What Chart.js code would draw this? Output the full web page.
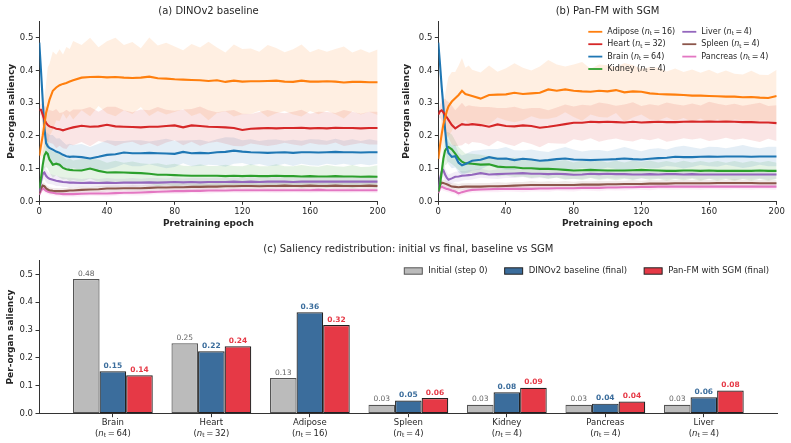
<!DOCTYPE html>
<html>
<head>
<meta charset="utf-8">
<script src="https://cdn.jsdelivr.net/npm/chart.js@4.4.1/dist/chart.umd.min.js"></script>
<style>
  body { margin: 0; background: #fff; overflow: hidden; }
  #wrap { position: relative; width: 791px; height: 443px; }
  canvas { position: absolute; }
</style>
</head>
<body>
<div id="wrap">
  <canvas id="chartA" width="395" height="232" style="left:0;top:0"></canvas>
  <canvas id="chartB" width="396" height="232" style="left:395px;top:0"></canvas>
  <canvas id="chartC" width="791" height="211" style="left:0;top:232px"></canvas>
</div>
<script>
// ---- data ----
const organs = ['Adipose', 'Heart', 'Brain', 'Kidney', 'Liver', 'Spleen', 'Pancreas'];
const organNt = [16, 32, 64, 4, 4, 4, 4];
const organColors = ['#ff7f0e', '#d62728', '#1f77b4', '#2ca02c', '#9467bd', '#8c564b', '#e377c2'];

const epochs = [0,1,2,3,4,5,6,8,10,12,14,16,18,20,25,30,35,40,45,50,55,60,65,70,75,80,85,90,95,100,
  105,110,115,120,125,130,135,140,145,150,155,160,165,170,175,180,185,190,195,200];

// (a) DINOv2 baseline - mean saliency
const adiposeA = [0.14,0.17,0.20,0.235,0.27,0.29,0.31,0.338,0.348,0.355,0.359,0.362,0.366,0.370,
  0.378,0.380,0.381,0.379,0.380,0.378,0.377,0.378,0.381,0.376,0.375,0.373,0.372,0.371,0.370,0.368,
  0.370,0.365,0.369,0.366,0.367,0.367,0.368,0.369,0.366,0.365,0.369,0.366,0.366,0.367,0.366,0.363,0.365,0.365,0.364,0.364];
const heartA = [0.28,0.28,0.265,0.25,0.24,0.233,0.229,0.226,0.222,0.220,0.217,0.220,0.223,0.226,
  0.231,0.228,0.229,0.234,0.229,0.228,0.227,0.226,0.228,0.228,0.230,0.232,0.226,0.232,0.230,0.228,
  0.227,0.226,0.224,0.218,0.222,0.223,0.224,0.223,0.224,0.224,0.225,0.223,0.224,0.223,0.225,0.224,0.224,0.223,0.224,0.224];
const brainA = [0.485,0.40,0.31,0.225,0.178,0.168,0.163,0.158,0.152,0.148,0.142,0.138,0.136,0.137,
  0.135,0.131,0.136,0.142,0.144,0.149,0.147,0.147,0.148,0.147,0.146,0.145,0.151,0.147,0.148,0.147,
  0.150,0.151,0.155,0.152,0.150,0.149,0.148,0.149,0.150,0.148,0.150,0.150,0.149,0.150,0.151,0.150,0.150,0.149,0.150,0.150];
const kidneyA = [0.04,0.07,0.11,0.14,0.150,0.145,0.128,0.112,0.115,0.112,0.102,0.098,0.096,0.095,
  0.094,0.100,0.093,0.088,0.089,0.088,0.087,0.086,0.084,0.081,0.081,0.080,0.079,0.078,0.078,0.078,
  0.078,0.077,0.078,0.077,0.078,0.077,0.077,0.078,0.077,0.077,0.076,0.077,0.076,0.076,0.077,0.076,0.076,0.075,0.076,0.075];
const liverA = [0.03,0.06,0.085,0.088,0.078,0.072,0.069,0.066,0.063,0.061,0.059,0.058,0.057,0.057,
  0.056,0.057,0.056,0.057,0.056,0.057,0.057,0.057,0.058,0.057,0.058,0.059,0.058,0.059,0.058,0.059,
  0.059,0.059,0.060,0.059,0.060,0.059,0.060,0.060,0.060,0.059,0.060,0.060,0.060,0.060,0.060,0.060,0.060,0.060,0.060,0.060];
const spleenA = [0.025,0.04,0.048,0.046,0.040,0.036,0.034,0.032,0.031,0.031,0.031,0.032,0.033,0.033,
  0.035,0.036,0.037,0.039,0.039,0.040,0.040,0.040,0.041,0.042,0.042,0.043,0.043,0.044,0.044,0.045,
  0.045,0.046,0.046,0.047,0.047,0.046,0.047,0.047,0.048,0.047,0.047,0.048,0.047,0.047,0.048,0.047,0.047,0.047,0.048,0.047];
const pancreasA = [0.02,0.032,0.04,0.036,0.032,0.030,0.028,0.026,0.024,0.023,0.022,0.022,0.022,0.022,
  0.023,0.024,0.024,0.024,0.025,0.026,0.026,0.027,0.028,0.029,0.030,0.031,0.031,0.032,0.032,0.033,
  0.033,0.033,0.034,0.034,0.034,0.034,0.034,0.034,0.034,0.034,0.034,0.034,0.035,0.034,0.034,0.034,0.034,0.034,0.034,0.034];

// (a) spread of the shaded band
const adiposeSdA = [0.02,0.04,0.06,0.08,0.09,0.12,0.11,0.12,0.10,0.11,0.09,0.11,0.10,0.12,
  0.10,0.12,0.09,0.11,0.12,0.10,0.11,0.09,0.12,0.10,0.11,0.10,0.09,0.11,0.10,0.12,
  0.10,0.09,0.11,0.10,0.10,0.09,0.11,0.10,0.09,0.10,0.11,0.09,0.10,0.09,0.10,0.11,0.09,0.10,0.09,0.10];
const heartSdA = [0.01,0.02,0.03,0.04,0.05,0.05,0.05,0.05,0.06,0.05,0.055,0.06,0.05,0.055,
  0.05,0.06,0.045,0.055,0.06,0.05,0.045,0.055,0.05,0.06,0.05,0.045,0.055,0.05,0.06,0.05,
  0.045,0.05,0.055,0.05,0.045,0.05,0.055,0.05,0.045,0.05,0.055,0.045,0.05,0.05,0.045,0.055,0.05,0.045,0.05,0.05];
const brainSdA = [0.01,0.02,0.03,0.03,0.035,0.04,0.04,0.045,0.04,0.045,0.04,0.035,0.04,0.035,
  0.04,0.035,0.04,0.045,0.04,0.035,0.04,0.04,0.035,0.04,0.045,0.04,0.035,0.04,0.04,0.035,
  0.04,0.045,0.04,0.035,0.04,0.035,0.04,0.04,0.035,0.04,0.035,0.04,0.04,0.035,0.04,0.035,0.04,0.035,0.04,0.035];
const kidneySdA = [0.01,0.02,0.03,0.04,0.045,0.045,0.04,0.04,0.035,0.04,0.035,0.03,0.035,0.03,
  0.035,0.03,0.035,0.03,0.035,0.03,0.035,0.03,0.03,0.035,0.03,0.035,0.03,0.03,0.035,0.03,
  0.03,0.035,0.03,0.03,0.035,0.03,0.03,0.035,0.03,0.03,0.035,0.03,0.03,0.035,0.03,0.03,0.035,0.03,0.03,0.035];
const liverSdA = [0.005,0.01,0.02,0.02,0.02,0.018,0.016,0.015,0.016,0.014,0.015,0.014,0.015,0.014,
  0.012,0.014,0.012,0.014,0.013,0.012,0.014,0.012,0.013,0.014,0.012,0.014,0.012,0.013,0.014,0.012,
  0.014,0.012,0.013,0.012,0.014,0.012,0.013,0.014,0.012,0.013,0.012,0.014,0.012,0.013,0.012,0.014,0.012,0.013,0.012,0.014];
const spleenSdA = [0.005,0.008,0.01,0.01,0.01,0.01,0.009,0.009,0.01,0.009,0.01,0.009,0.01,0.009,
  0.01,0.008,0.01,0.009,0.01,0.008,0.01,0.009,0.01,0.008,0.01,0.009,0.01,0.008,0.01,0.009,
  0.01,0.008,0.01,0.009,0.01,0.008,0.01,0.009,0.01,0.008,0.01,0.009,0.01,0.008,0.01,0.009,0.01,0.008,0.01,0.009];
const pancreasSdA = [0.005,0.008,0.01,0.009,0.008,0.008,0.008,0.008,0.007,0.008,0.007,0.008,0.007,0.008,
  0.008,0.007,0.008,0.009,0.008,0.007,0.008,0.009,0.008,0.007,0.008,0.009,0.008,0.007,0.008,0.009,
  0.008,0.007,0.008,0.009,0.008,0.007,0.008,0.009,0.008,0.007,0.008,0.009,0.008,0.007,0.008,0.009,0.008,0.007,0.008,0.009];

// (b) Pan-FM with SGM - mean saliency
const adiposeB = [0.13,0.17,0.205,0.235,0.255,0.275,0.29,0.305,0.315,0.325,0.338,0.328,0.325,0.322,
  0.314,0.325,0.326,0.327,0.332,0.328,0.330,0.332,0.342,0.338,0.342,0.338,0.336,0.335,0.338,0.336,
  0.340,0.333,0.336,0.335,0.330,0.328,0.327,0.326,0.325,0.323,0.323,0.322,0.321,0.320,0.320,0.318,0.319,0.317,0.316,0.322];
const heartB = [0.265,0.275,0.278,0.272,0.264,0.257,0.249,0.233,0.223,0.230,0.236,0.234,0.234,0.236,
  0.233,0.228,0.235,0.230,0.229,0.232,0.230,0.225,0.228,0.232,0.236,0.240,0.240,0.243,0.242,0.243,
  0.242,0.241,0.243,0.241,0.242,0.243,0.242,0.242,0.243,0.244,0.243,0.244,0.243,0.244,0.243,0.242,0.242,0.241,0.241,0.239];
const brainB = [0.485,0.42,0.35,0.29,0.22,0.168,0.148,0.136,0.138,0.118,0.110,0.114,0.119,0.124,
  0.127,0.135,0.130,0.131,0.126,0.130,0.128,0.124,0.126,0.129,0.131,0.128,0.127,0.126,0.127,0.128,
  0.129,0.131,0.129,0.128,0.130,0.132,0.133,0.136,0.135,0.135,0.136,0.137,0.136,0.137,0.137,0.137,0.136,0.137,0.137,0.137];
const kidneyB = [0.03,0.05,0.09,0.13,0.155,0.163,0.166,0.159,0.146,0.131,0.121,0.116,0.116,0.115,
  0.112,0.113,0.106,0.104,0.104,0.101,0.101,0.099,0.099,0.098,0.096,0.094,0.095,0.096,0.095,0.094,
  0.094,0.094,0.095,0.096,0.095,0.094,0.093,0.093,0.094,0.094,0.093,0.094,0.093,0.093,0.093,0.093,0.093,0.094,0.093,0.093];
const liverB = [0.03,0.07,0.09,0.095,0.082,0.072,0.066,0.070,0.075,0.076,0.078,0.079,0.080,0.081,
  0.086,0.082,0.083,0.084,0.085,0.086,0.084,0.084,0.083,0.084,0.083,0.081,0.082,0.084,0.083,0.084,
  0.083,0.083,0.082,0.082,0.083,0.082,0.083,0.083,0.082,0.083,0.082,0.082,0.082,0.082,0.082,0.082,0.082,0.082,0.082,0.082];
const spleenB = [0.03,0.05,0.057,0.056,0.054,0.052,0.050,0.045,0.044,0.043,0.044,0.045,0.045,0.045,
  0.045,0.046,0.046,0.047,0.048,0.049,0.050,0.050,0.050,0.050,0.050,0.050,0.051,0.051,0.051,0.052,
  0.052,0.053,0.053,0.053,0.054,0.054,0.054,0.055,0.055,0.055,0.055,0.055,0.056,0.056,0.056,0.056,0.056,0.055,0.055,0.055];
const pancreasB = [0.025,0.04,0.045,0.042,0.040,0.038,0.037,0.033,0.030,0.024,0.028,0.031,0.033,0.035,
  0.036,0.037,0.038,0.038,0.038,0.038,0.038,0.039,0.039,0.040,0.040,0.040,0.041,0.041,0.041,0.042,
  0.042,0.043,0.043,0.044,0.044,0.045,0.045,0.045,0.045,0.045,0.045,0.045,0.045,0.045,0.045,0.045,0.045,0.045,0.045,0.045];

// (b) spread of the shaded band
const adiposeSdB = [0.02,0.04,0.05,0.06,0.07,0.08,0.09,0.09,0.08,0.09,0.10,0.08,0.09,0.08,
  0.08,0.09,0.07,0.08,0.09,0.08,0.07,0.08,0.09,0.08,0.07,0.08,0.09,0.07,0.08,0.08,
  0.07,0.09,0.08,0.07,0.08,0.08,0.07,0.08,0.07,0.08,0.07,0.08,0.07,0.08,0.07,0.07,0.08,0.07,0.07,0.08];
const heartSdB = [0.01,0.02,0.03,0.04,0.05,0.05,0.055,0.06,0.055,0.06,0.065,0.055,0.06,0.055,
  0.055,0.06,0.05,0.055,0.06,0.05,0.055,0.06,0.05,0.055,0.06,0.05,0.055,0.05,0.06,0.055,
  0.05,0.055,0.06,0.05,0.055,0.05,0.06,0.055,0.05,0.055,0.05,0.06,0.055,0.05,0.055,0.05,0.055,0.06,0.05,0.055];
const brainSdB = [0.01,0.02,0.03,0.035,0.04,0.04,0.035,0.035,0.035,0.03,0.03,0.03,0.03,0.03,
  0.03,0.025,0.03,0.035,0.03,0.025,0.03,0.03,0.025,0.03,0.035,0.03,0.025,0.03,0.03,0.025,
  0.03,0.035,0.03,0.025,0.03,0.03,0.025,0.03,0.035,0.03,0.025,0.03,0.03,0.025,0.03,0.035,0.03,0.025,0.03,0.03];
const kidneySdB = [0.01,0.02,0.03,0.04,0.045,0.05,0.045,0.045,0.04,0.035,0.035,0.03,0.03,0.03,
  0.03,0.025,0.03,0.025,0.03,0.025,0.03,0.025,0.03,0.025,0.03,0.025,0.03,0.025,0.03,0.025,
  0.03,0.025,0.03,0.025,0.03,0.025,0.03,0.025,0.03,0.025,0.03,0.025,0.03,0.025,0.03,0.025,0.03,0.025,0.03,0.025];
const liverSdB = [0.005,0.01,0.02,0.02,0.02,0.018,0.016,0.016,0.015,0.016,0.015,0.014,0.015,0.014,
  0.014,0.012,0.015,0.013,0.014,0.012,0.015,0.013,0.014,0.012,0.015,0.013,0.014,0.012,0.015,0.013,
  0.014,0.012,0.015,0.013,0.014,0.012,0.015,0.013,0.014,0.012,0.015,0.013,0.014,0.012,0.015,0.013,0.014,0.012,0.015,0.013];
const spleenSdB = [0.005,0.008,0.01,0.01,0.01,0.01,0.01,0.01,0.011,0.01,0.011,0.01,0.011,0.01,
  0.011,0.01,0.012,0.01,0.011,0.01,0.012,0.01,0.011,0.01,0.012,0.01,0.011,0.01,0.012,0.01,
  0.011,0.01,0.012,0.01,0.011,0.01,0.012,0.01,0.011,0.01,0.012,0.01,0.011,0.01,0.012,0.01,0.011,0.01,0.012,0.01];
const pancreasSdB = [0.005,0.008,0.01,0.01,0.009,0.009,0.009,0.009,0.008,0.009,0.008,0.009,0.008,0.009,
  0.008,0.009,0.01,0.008,0.009,0.01,0.008,0.009,0.01,0.008,0.009,0.01,0.008,0.009,0.01,0.008,
  0.009,0.01,0.008,0.009,0.01,0.008,0.009,0.01,0.008,0.009,0.01,0.008,0.009,0.01,0.008,0.009,0.01,0.008,0.009,0.01];

// (c) bar chart
const barCats = ['Brain', 'Heart', 'Adipose', 'Spleen', 'Kidney', 'Pancreas', 'Liver'];
const barNt = [64, 32, 16, 4, 4, 4, 4];
const barSeries = ['Initial (step 0)', 'DINOv2 baseline (final)', 'Pan-FM with SGM (final)'];
const initialVals = [0.483, 0.253, 0.128, 0.032, 0.032, 0.032, 0.032];
const baselineVals = [0.152, 0.224, 0.364, 0.047, 0.077, 0.036, 0.059];
const sgmVals = [0.138, 0.242, 0.318, 0.056, 0.093, 0.044, 0.083];
const barFill = ['#bbbbbb', '#3b6d9c', '#e63946'];
const barEdge = ['#555555', '#222222', '#222222'];
const barLabelColor = ['#666666', '#3b6d9c', '#e63946'];

// ---- helpers ----
const FONT = '"DejaVu Sans"';
Chart.defaults.font.family = FONT;
Chart.defaults.color = '#262626';
Chart.defaults.animation = false;

function alpha(hex, a) {
  const n = parseInt(hex.slice(1), 16);
  return `rgba(${n >> 16},${(n >> 8) & 255},${n & 255},${a})`;
}

// text pieces for "(n_t = N)" with italic n and subscript t
function ntRuns(pre, n, size) {
  return [
    [pre + '(', `${size}px ${FONT}`, 0],
    ['n', `italic ${size}px ${FONT}`, 0],
    ['t', `${(size * 0.7).toFixed(1)}px ${FONT}`, size * 0.25],
    ['\u2009=\u2009' + n + ')', `${size}px ${FONT}`, 0]
  ];
}

function drawRuns(ctx, runs, x, y, align) {
  let w = 0;
  runs.forEach(r => { ctx.font = r[1]; w += ctx.measureText(r[0]).width; });
  let cx = align === 'center' ? x - w / 2 : x;
  ctx.textAlign = 'left';
  ctx.textBaseline = 'middle';
  runs.forEach(r => {
    ctx.font = r[1];
    ctx.fillText(r[0], cx, y + r[2]);
    cx += ctx.measureText(r[0]).width;
  });
}

function axisStyle() {
  return {
    grid: { drawOnChartArea: false, tickLength: 3.5, color: '#333', lineWidth: 1 },
    border: { display: true, color: '#333', width: 1 }
  };
}

function lineChart(id, title, means, sds, yw, rp) {
  const datasets = [];
  organs.forEach((o, k) => {
    const c = organColors[k];
    datasets.push({
      data: epochs.map((e, i) => ({ x: e, y: means[k][i] + sds[k][i] })),
      borderColor: 'transparent', borderWidth: 0, pointRadius: 0,
      fill: '+1', backgroundColor: alpha(c, 0.12), order: 100
    });
    datasets.push({
      data: epochs.map((e, i) => ({ x: e, y: means[k][i] - sds[k][i] })),
      borderColor: 'transparent', borderWidth: 0, pointRadius: 0, fill: false, order: 100
    });
    datasets.push({
      label: o,
      data: epochs.map((e, i) => ({ x: e, y: means[k][i] })),
      borderColor: c, borderWidth: 2.1, pointRadius: 0, fill: false, order: 1
    });
  });

  const plugins = [];
  if (id === 'chartB') plugins.push(legendB);

  return new Chart(document.getElementById(id), {
    type: 'line',
    data: { datasets },
    options: {
      responsive: false,
      layout: { padding: { left: 0, right: rp, top: 0, bottom: 0 } },
      plugins: {
        legend: { display: false },
        tooltip: { enabled: false },
        title: {
          display: true, text: title, fullSize: false, color: '#262626',
          font: { size: 10, weight: 'normal' }, padding: { top: 5, bottom: 4.4 }
        }
      },
      scales: {
        x: {
          type: 'linear', min: 0, max: 200,
          afterFit: s => { s.height = 30.7; },
          ticks: { stepSize: 40, padding: 2, maxRotation: 0, font: { size: 8.5 }, color: '#262626' },
          title: { display: true, text: 'Pretraining epoch', font: { size: 9, weight: 'bold' }, padding: { top: 0, bottom: 3 } },
          ...axisStyle()
        },
        y: {
          min: 0, max: 0.55,
          afterFit: s => { s.width = yw; },
          ticks: { stepSize: 0.1, includeBounds: false, padding: 2.5, font: { size: 8.5 }, color: '#262626',
            callback: v => v.toFixed(1) },
          title: { display: true, text: 'Per-organ saliency', font: { size: 9, weight: 'bold' }, padding: { top: 6, bottom: 0 } },
          ...axisStyle()
        }
      }
    },
    plugins
  });
}

// two-column legend inside panel (b)
const legendB = {
  id: 'legendB',
  afterDraw(chart) {
    const { ctx, chartArea: a } = chart;
    const cols = [[0, 1, 2, 3], [4, 5, 6]];
    cols.forEach((col, ci) => {
      col.forEach((k, r) => {
        const x = a.right - (ci === 0 ? 188.4 : 94.4);
        const y = 31.8 + 12.4 * r;
        ctx.save();
        ctx.strokeStyle = organColors[k];
        ctx.lineWidth = 1.8;
        ctx.beginPath(); ctx.moveTo(x, y); ctx.lineTo(x + 14, y); ctx.stroke();
        ctx.fillStyle = '#262626';
        drawRuns(ctx, ntRuns(organs[k] + ' ', organNt[k], 8), x + 19, y, 'left');
        ctx.restore();
      });
    });
  }
};

lineChart('chartA', '(a) DINOv2 baseline',
  [adiposeA, heartA, brainA, kidneyA, liverA, spleenA, pancreasA],
  [adiposeSdA, heartSdA, brainSdA, kidneySdA, liverSdA, spleenSdA, pancreasSdA], 39.3, 17.3);

lineChart('chartB', '(b) Pan-FM with SGM',
  [adiposeB, heartB, brainB, kidneyB, liverB, spleenB, pancreasB],
  [adiposeSdB, heartSdB, brainSdB, kidneySdB, liverSdB, spleenSdB, pancreasSdB], 43.3, 14.3);

// ---- (c) bars ----
const barExtras = {
  id: 'barExtras',
  afterDatasetsDraw(chart) {
    const ctx = chart.ctx;
    chart.data.datasets.forEach((ds, d) => {
      chart.getDatasetMeta(d).data.forEach((el, i) => {
        ctx.save();
        ctx.font = (d === 0 ? '' : 'bold ') + `7.5px ${FONT}`;
        ctx.fillStyle = barLabelColor[d];
        ctx.textAlign = 'center';
        ctx.textBaseline = 'bottom';
        ctx.fillText(ds.data[i].y.toFixed(2), el.x, el.y - 1.5);
        ctx.restore();
      });
    });
  },
  afterDraw(chart) {
    const { ctx, chartArea: a } = chart;
    const sx = chart.scales.x;
    ctx.save();
    ctx.fillStyle = '#262626';
    barCats.forEach((c, i) => {
      const x = sx.getPixelForValue(i);
      ctx.font = `8.5px ${FONT}`;
      ctx.textAlign = 'center';
      ctx.textBaseline = 'middle';
      ctx.fillText(c, x, sx.top + 9.5);
      drawRuns(ctx, ntRuns('', barNt[i], 8.5), x, sx.top + 20, 'center');
    });
    // legend row
    let lx = 404.3;
    const ly = a.top + 10.6;
    barSeries.forEach((s, d) => {
      ctx.fillStyle = barFill[d];
      ctx.fillRect(lx, ly - 3.2, 18, 6.4);
      ctx.strokeStyle = barEdge[d];
      ctx.lineWidth = 1;
      ctx.strokeRect(lx, ly - 3.2, 18, 6.4);
      ctx.fillStyle = '#262626';
      ctx.font = `8.5px ${FONT}`;
      ctx.textAlign = 'left';
      ctx.textBaseline = 'middle';
      ctx.fillText(s, lx + 24, ly);
      lx += 24 + ctx.measureText(s).width + 17;
    });
    ctx.restore();
  }
};

new Chart(document.getElementById('chartC'), {
  type: 'bar',
  data: {
    datasets: [initialVals, baselineVals, sgmVals].map((vals, d) => ({
      label: barSeries[d],
      data: vals.map((v, i) => ({ x: i, y: v })),
      backgroundColor: barFill[d],
      borderColor: barEdge[d],
      borderWidth: 1.2,
      borderSkipped: false,
      categoryPercentage: 0.81,
      barPercentage: 1
    }))
  },
  options: {
    responsive: false,
    layout: { padding: { left: 0, right: 13.3, top: 0, bottom: 0 } },
    plugins: {
      legend: { display: false },
      tooltip: { enabled: false },
      title: {
        display: true, text: '(c) Saliency redistribution: initial vs final, baseline vs SGM',
        fullSize: false, color: '#262626', font: { size: 10, weight: 'normal' },
        padding: { top: 11, bottom: 5.4 }
      }
    },
    scales: {
      x: {
        type: 'linear', min: -0.75, max: 6.75, offset: false,
        afterBuildTicks: s => { s.ticks = barCats.map((c, i) => ({ value: i })); },
        afterFit: s => { s.height = 29.3; },
        ticks: { display: false },
        grid: { drawOnChartArea: false, tickLength: 3.5, color: '#333', offset: false },
        border: { display: true, color: '#333', width: 1 }
      },
      y: {
        min: 0, max: 0.55,
        afterFit: s => { s.width = 39; },
        ticks: { stepSize: 0.1, includeBounds: false, padding: 2.5, font: { size: 8.5 }, color: '#262626',
          callback: v => v.toFixed(1) },
        title: { display: true, text: 'Per-organ saliency', font: { size: 9, weight: 'bold' }, padding: { top: 5.6, bottom: 0 } },
        ...axisStyle()
      }
    }
  },
  plugins: [barExtras]
});
</script>
</body>
</html>
